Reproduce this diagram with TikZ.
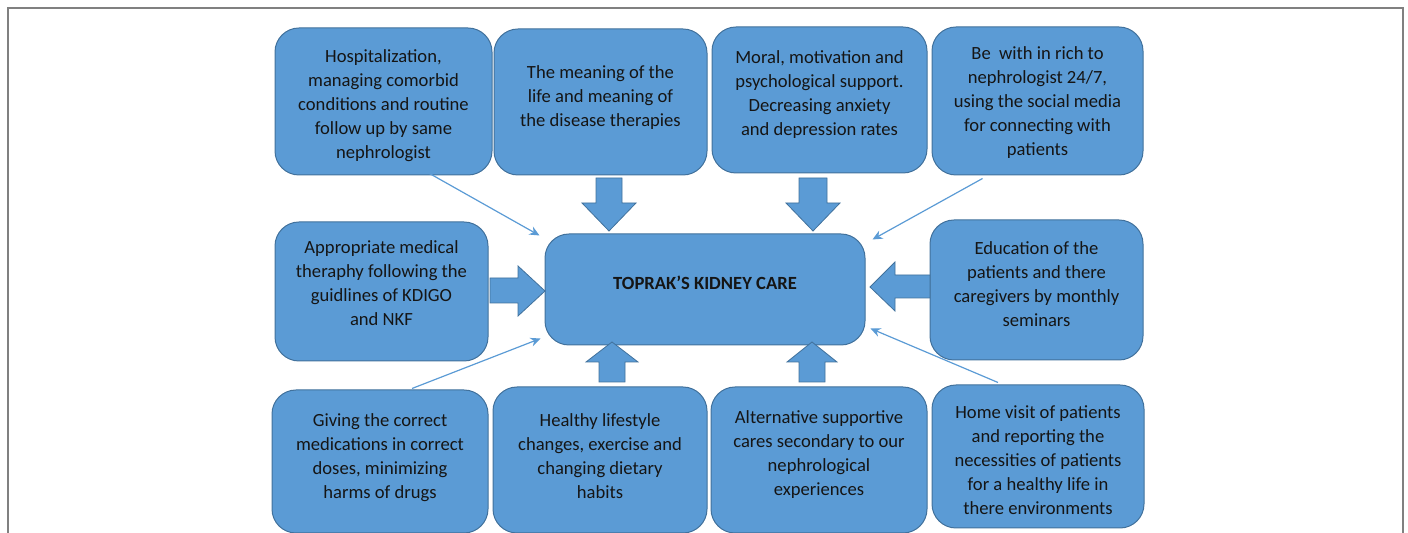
\documentclass[tikz,border=0pt]{standalone}
\usepackage{fontspec}
\setmainfont{Carlito}
\usetikzlibrary{arrows.meta}

\definecolor{carefill}{HTML}{5B9BD5}
\definecolor{careline}{HTML}{41719C}
\definecolor{caretext}{HTML}{151515}
\definecolor{framegray}{HTML}{808080}

\begin{document}
\begin{tikzpicture}[x=0.5pt, y=-0.5pt,
    careitem/.style={draw=careline, fill=carefill, line width=0.5pt,
      rounded corners=12pt, minimum width=107pt, minimum height=73pt},
    itemtext/.style={align=center, text=caretext, inner sep=0pt,
      font=\fontsize{9.3}{12}\selectfont},
    blockarrow/.style={draw=careline, fill=carefill, line width=0.4pt},
    thinarrow/.style={carefill, line width=0.6pt,
      -{Stealth[length=5pt, width=4.5pt]}}]

  \useasboundingbox (0,0) rectangle (1408,533);

  % Outer frame
  \draw[framegray, line width=0.8pt] (8,8) rectangle (1403,560);

  % --- Top row ---
  \node[careitem, minimum width=108.5pt, minimum height=73.5pt] (hosp) at (383.5,101.5) {};
  \node[careitem, minimum width=106.5pt] (meaning) at (600.5,102) {};
  \node[careitem, minimum width=107.5pt] (moral) at (819.5,100) {};
  \node[careitem, minimum width=105.5pt, minimum height=74pt] (reach) at (1037.5,101) {};

  % --- Middle row ---
  \node[careitem, minimum width=106.5pt, minimum height=69.5pt] (medical) at (381.5,291.5) {};
  \node[careitem, minimum width=160pt, minimum height=55.5pt] (care) at (705,289.5) {};
  \node[careitem, minimum width=106.5pt, minimum height=70pt] (educ) at (1036.5,290) {};

  % --- Bottom row ---
  \node[careitem, minimum width=108pt, minimum height=71.5pt] (meds) at (380,461.5) {};
  \node[careitem] (life) at (600,460) {};
  \node[careitem, minimum width=108pt] (alt) at (819,460) {};
  \node[careitem, minimum width=106pt, minimum height=71.5pt] (home) at (1038,456.5) {};

  % Box texts
  \node[itemtext] (hospText) at ([yshift=-2pt]hosp.center)
    {Hospitalization,\\managing comorbid\\conditions and routine\\follow up by same\\nephrologist};
  \node[itemtext] (meaningText) at ([yshift=2pt]meaning.center)
    {The meaning of the\\life and meaning of\\the disease therapies};
  \node[itemtext] (moralText) at ([yshift=2.5pt]moral.center)
    {Moral, motivation and\\psychological support.\\Decreasing anxiety\\and depression rates};
  \node[itemtext] (reachText) at ([yshift=-1pt]reach.center)
    {Be\ \ with in rich to\\nephrologist 24/7,\\using the social media\\for connecting with\\patients};
  \node[itemtext] (medicalText) at ([yshift=4pt]medical.center)
    {Appropriate medical\\theraphy following the\\guidlines of KDIGO\\and NKF};
  \node[itemtext, font=\fontsize{9.3}{12}\selectfont\bfseries] (careText) at ([yshift=3.5pt]care.center)
    {TOPRAK’S KIDNEY CARE};
  \node[itemtext] (educText) at ([yshift=3pt]educ.center)
    {Education of the\\patients and there\\caregivers by monthly\\seminars};
  \node[itemtext] (medsText) at ([yshift=2pt]meds.center)
    {Giving the correct\\medications in correct\\doses, minimizing\\harms of drugs};
  \node[itemtext] (lifeText) at ([yshift=2pt]life.center)
    {Healthy lifestyle\\changes, exercise and\\changing dietary\\habits};
  \node[itemtext] (altText) at ([yshift=2.5pt]alt.center)
    {Alternative supportive\\cares secondary to our\\nephrological\\experiences};
  \node[itemtext] (homeText) at ([yshift=-2pt]home.center)
    {Home visit of patients\\and reporting the\\necessities of patients\\for a healthy life in\\there environments};

  % Block arrows (tips)
  \coordinate (downA) at (609,231);
  \coordinate (downB) at (813,231);
  \coordinate (rightA) at (545,291);
  \coordinate (leftA) at (870,287);
  \coordinate (upA) at (612,342);
  \coordinate (upB) at (812,342);

  \draw[blockarrow] (downA) -- ++(-27,-28) -- ++(14,0) -- ++(0,-25) -- ++(26,0)
    -- ++(0,25) -- ++(14,0) -- cycle;
  \draw[blockarrow] (downB) -- ++(-27,-28) -- ++(13,0) -- ++(0,-25) -- ++(28,0)
    -- ++(0,25) -- ++(13,0) -- cycle;
  \draw[blockarrow] (rightA) -- ++(-27,-25) -- ++(0,12) -- ++(-28,0) -- ++(0,25)
    -- ++(28,0) -- ++(0,13) -- cycle;
  \draw[blockarrow] (leftA) -- ++(25,-25) -- ++(0,13) -- ++(35,0) -- ++(0,23)
    -- ++(-35,0) -- ++(0,13) -- cycle;
  \draw[blockarrow] (upA) -- ++(-26,20) -- ++(13,0) -- ++(0,20) -- ++(26,0)
    -- ++(0,-20) -- ++(13,0) -- cycle;
  \draw[blockarrow] (upB) -- ++(-25,20) -- ++(12,0) -- ++(0,20) -- ++(26,0)
    -- ++(0,-20) -- ++(12,0) -- cycle;

  % Thin connectors to the corners of the centre box
  \draw[thinarrow] ([xshift=23pt, yshift=1pt]hosp.south)
    -- ([xshift=-2.5pt, yshift=-1pt]care.north west);
  \draw[thinarrow] ([xshift=-27.5pt, yshift=-1.5pt]reach.south)
    -- ([xshift=3.5pt, yshift=-3pt]care.north east);
  \draw[thinarrow] ([xshift=16pt, yshift=0.5pt]meds.north)
    -- ([xshift=-2pt, yshift=3.5pt]care.south west);
  \draw[thinarrow] ([xshift=-20pt, yshift=1pt]home.north)
    -- ([xshift=2.5pt, yshift=8.5pt]care.south east);

\end{tikzpicture}
\end{document}
